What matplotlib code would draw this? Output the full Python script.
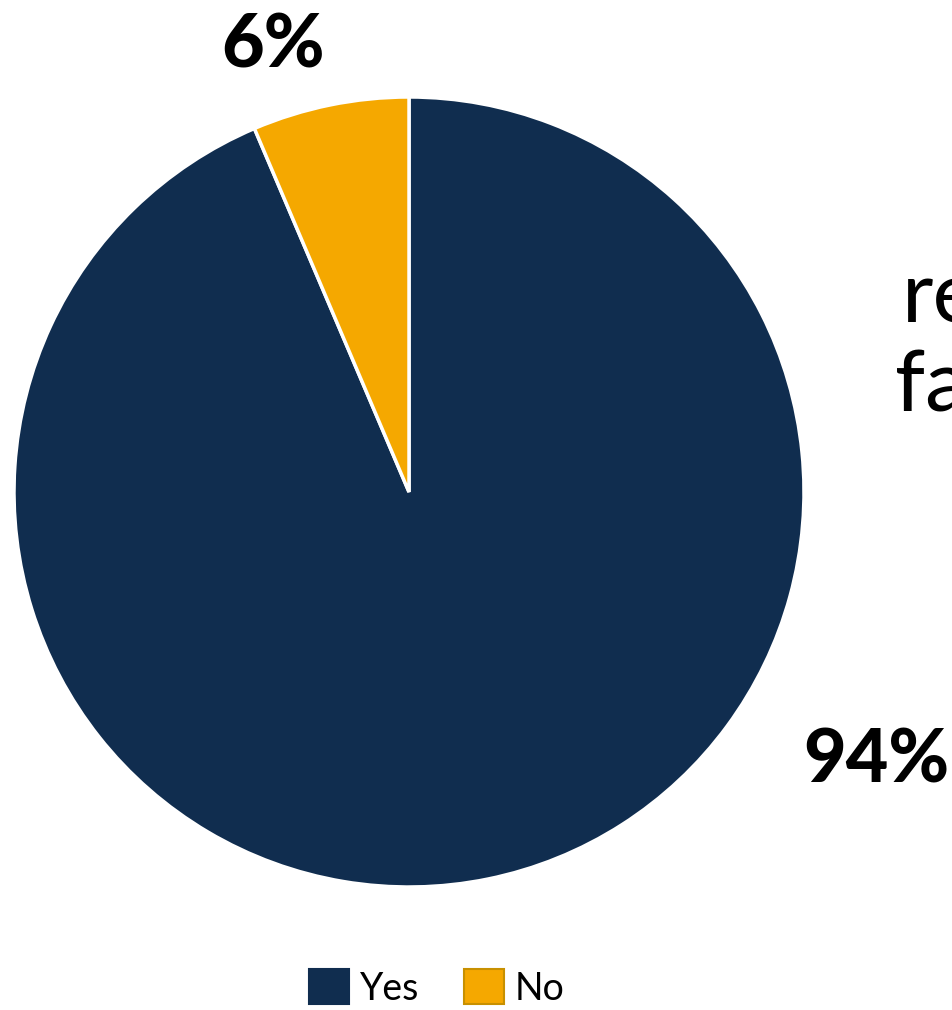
import matplotlib.pyplot as plt
from matplotlib.patches import Patch

plt.rcParams['font.family'] = ['Lato', 'DejaVu Sans']

# data
labels = ["Yes", "No"]
values = [93.6, 6.4]
pct_text = ["94%", "6%"]
colors = ["#102D4F", "#F5A800"]
edge_legend = ["#102D4F", "#C89000"]

W, H = 953, 1010
fig = plt.figure(figsize=(W / 100, H / 100), dpi=100)

# pie axes: centre (409, 492) px, radius 395 px
cx, cy, r = 409, 492, 395
ax = fig.add_axes([(cx - r) / W, 1 - (cy + r) / H, 2 * r / W, 2 * r / H])
ax.pie(values, colors=colors, startangle=90, counterclock=False,
       radius=1, wedgeprops=dict(edgecolor="white", linewidth=2.5))
ax.set_xlim(-1, 1)
ax.set_ylim(-1, 1)
ax.set_aspect("equal")
ax.axis("off")

# data labels (Excel places them outside)
ax.text(-0.345, 1.128, pct_text[1], ha="center", va="center",
        fontsize=53, fontweight="black", color="black", clip_on=False)
ax.text(1.183, -0.682, pct_text[0], ha="center", va="center",
        fontsize=53, fontweight="black", color="black", clip_on=False)

# clipped title fragments on the right edge (cut off in the original too)
fig.text(902 / W, 1 - 322 / H, "re", ha="left", va="baseline",
         fontsize=62, color="black")
fig.text(895 / W, 1 - 412 / H, "fa", ha="left", va="baseline",
         fontsize=62, color="black")

handles = [Patch(facecolor=c, edgecolor=e, linewidth=1.5, label=l)
           for c, e, l in zip(colors, edge_legend, labels)]
fig.legend(handles=handles, loc="center", bbox_to_anchor=(437 / W, 1 - 988 / H),
           ncol=2, frameon=False, fontsize=27, handlelength=1.05,
           handleheight=1.05, handletextpad=0.3, columnspacing=1.2)

fig.savefig("out.png", dpi=100, facecolor="white")
